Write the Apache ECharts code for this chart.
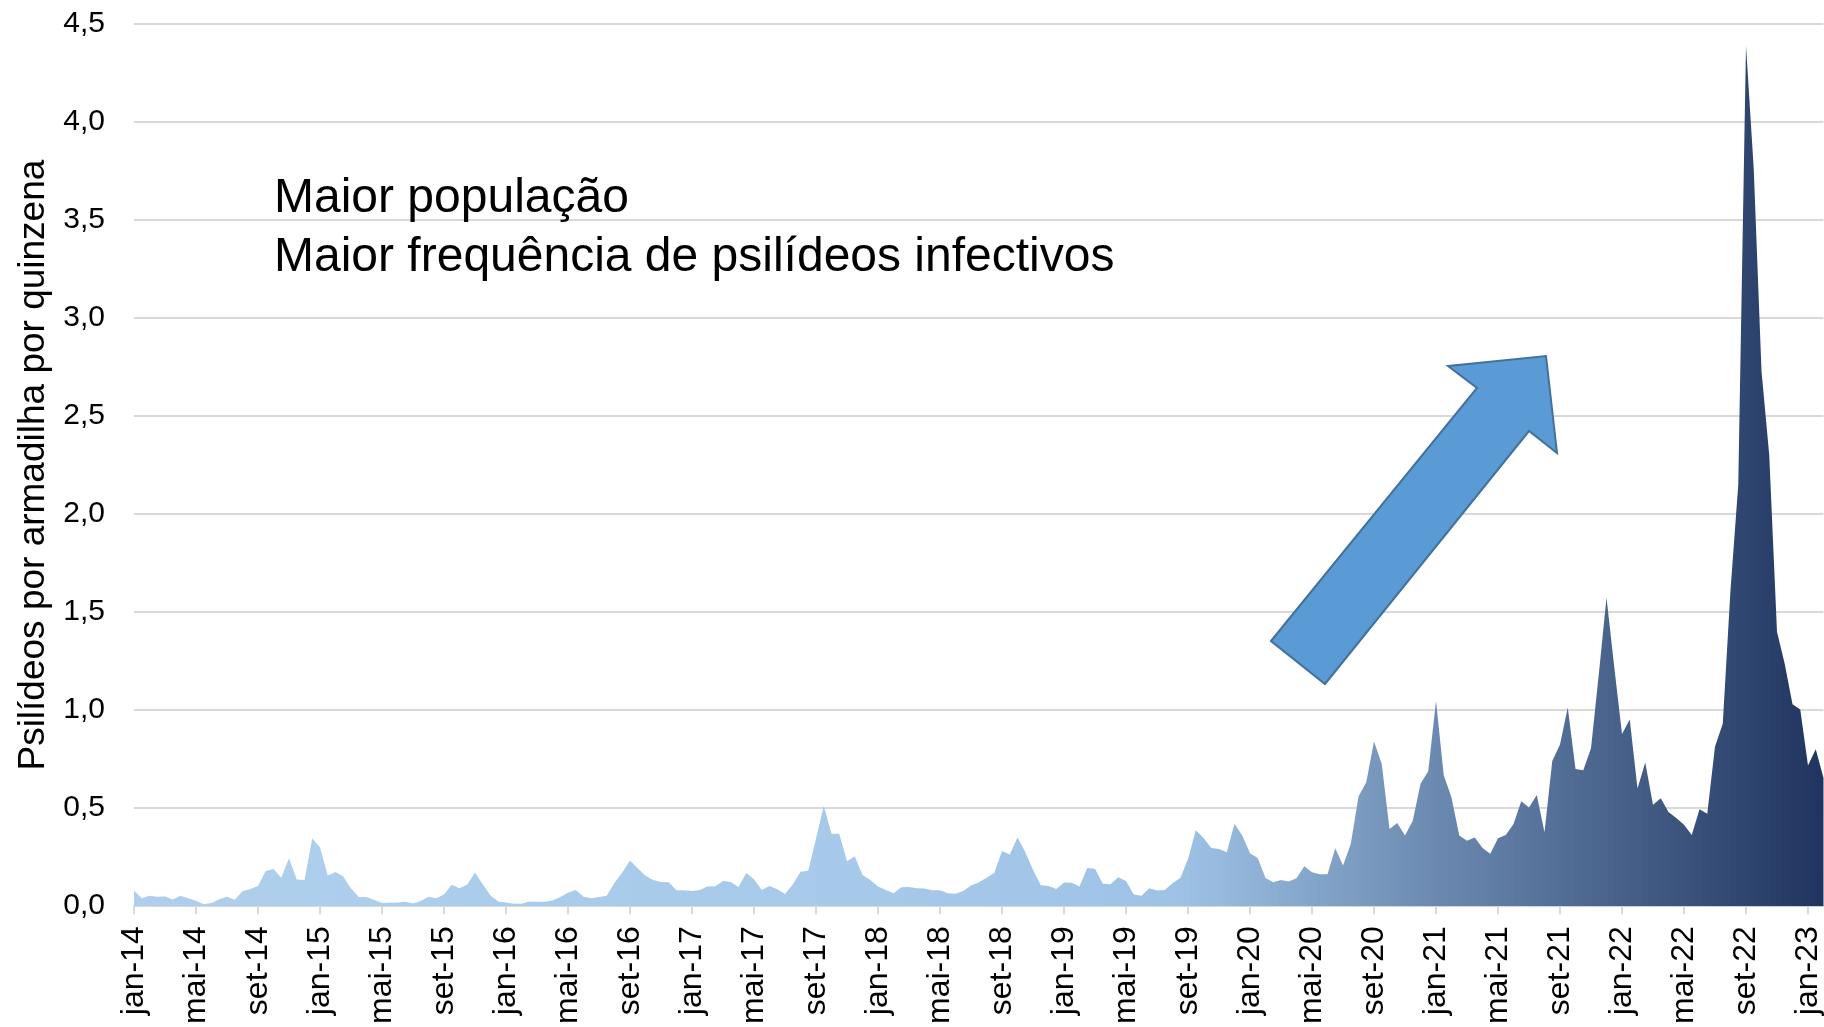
<!DOCTYPE html>
<html>
<head>
<meta charset="utf-8">
<title>Psilídeos por armadilha por quinzena</title>
<script src="https://cdn.jsdelivr.net/npm/echarts@6/dist/echarts.min.js"></script>
<style>
  html, body { margin: 0; padding: 0; background: #fff; }
  #chart { width: 1824px; height: 1027px; }
</style>
</head>
<body>
<div id="chart"></div>
<script>
// -------------------------- 数据 --------------------------
// 月份缩写（葡萄牙语），每月两个“quinzena”
const months = ['jan', 'fev', 'mar', 'abr', 'mai', 'jun', 'jul', 'ago', 'set', 'out', 'nov', 'dez'];
const firstYear = 14;
const lastYear = 23;

// 每个 quinzena 的平均值（jan-14 起）
const psyllids = [
  0.08, 0.04, 0.053, 0.048, 0.05, 0.034, 0.053, 0.041, 0.028, 0.01,
  0.016, 0.036, 0.048, 0.033, 0.076, 0.088, 0.103, 0.179, 0.19, 0.145,
  0.245, 0.136, 0.134, 0.345, 0.30, 0.157, 0.174, 0.152, 0.09, 0.047,
  0.047, 0.031, 0.016, 0.017, 0.019, 0.022, 0.014, 0.026, 0.048, 0.04,
  0.059, 0.109, 0.091, 0.11, 0.172, 0.112, 0.055, 0.024, 0.019, 0.012,
  0.012, 0.024, 0.022, 0.022, 0.029, 0.047, 0.069, 0.083, 0.048, 0.041,
  0.047, 0.053, 0.12, 0.172, 0.233, 0.193, 0.155, 0.134, 0.124, 0.122,
  0.081, 0.081, 0.078, 0.083, 0.1, 0.102, 0.128, 0.124, 0.098, 0.169,
  0.138, 0.083, 0.103, 0.086, 0.062, 0.11, 0.176, 0.181, 0.345, 0.512,
  0.37, 0.37, 0.229, 0.255, 0.159, 0.133, 0.1, 0.083, 0.066, 0.097,
  0.098, 0.091, 0.09, 0.081, 0.081, 0.066, 0.064, 0.078, 0.105, 0.121,
  0.145, 0.169, 0.281, 0.264, 0.35, 0.276, 0.186, 0.107, 0.103, 0.088,
  0.121, 0.119, 0.1, 0.195, 0.191, 0.114, 0.112, 0.148, 0.129, 0.06,
  0.053, 0.092, 0.08, 0.083, 0.117, 0.144, 0.241, 0.387, 0.348, 0.297,
  0.292, 0.275, 0.421, 0.36, 0.27, 0.246, 0.144, 0.122, 0.134, 0.126,
  0.143, 0.204, 0.173, 0.163, 0.163, 0.295, 0.207, 0.317, 0.56, 0.632,
  0.84, 0.725, 0.394, 0.424, 0.36, 0.436, 0.624, 0.688, 1.048, 0.668,
  0.555, 0.36, 0.334, 0.351, 0.297, 0.267, 0.346, 0.363, 0.419, 0.535,
  0.504, 0.567, 0.377, 0.74, 0.825, 1.014, 0.7, 0.693, 0.805, 1.18,
  1.574, 1.22, 0.878, 0.952, 0.6, 0.733, 0.517, 0.55, 0.48, 0.45,
  0.416, 0.363, 0.494, 0.471, 0.814, 0.93, 1.613, 2.15, 4.39, 3.76,
  2.73, 2.30, 1.40, 1.235, 1.03, 1.003, 0.718, 0.80, 0.654
];

// Y 轴刻度
const yMin = 0;
const yMax = 4.5;
const yStep = 0.5;

// 文字
const yAxisTitle = 'Psilídeos por armadilha por quinzena';
const noteLines = ['Maior população', 'Maior frequência de psilídeos infectivos'];

// 类目：每月两个点，标签形如 "jan-14"
const categories = [];
for (let y = firstYear; y <= lastYear; y++) {
  for (const m of months) {
    categories.push(m + '-' + y, m + '-' + y);
  }
}
categories.length = psyllids.length;

// -------------------------- 图表 --------------------------
const FONT = '"Liberation Sans", Arial, sans-serif';
const chart = echarts.init(document.getElementById('chart'));

const option = {
  backgroundColor: '#ffffff',
  animation: false,
  grid: { left: 134, right: 0, top: 24, bottom: 119 },
  xAxis: {
    type: 'category',
    data: categories,
    boundaryGap: false,
    axisLine: { lineStyle: { color: '#d9d9d9', width: 2 } },
    axisTick: { interval: 7, length: 8, lineStyle: { color: '#d9d9d9', width: 2 } },
    axisLabel: {
      interval: 7,
      rotate: 90,
      margin: 20,
      color: '#000',
      fontSize: 32,
      fontFamily: FONT,
      hideOverlap: false
    },
    splitLine: { show: false }
  },
  yAxis: {
    type: 'value',
    min: yMin,
    max: yMax,
    interval: yStep,
    name: yAxisTitle,
    nameLocation: 'middle',
    nameRotate: 90,
    nameGap: 80,
    nameTextStyle: { color: '#000', fontSize: 37, fontFamily: FONT },
    axisLine: { show: false },
    axisTick: { show: false },
    axisLabel: {
      margin: 29,
      color: '#000',
      fontSize: 30,
      fontFamily: FONT,
      formatter: v => v.toFixed(1).replace('.', ',')
    },
    splitLine: { lineStyle: { color: '#d9d9d9', width: 2 } }
  },
  series: [{
    type: 'line',
    data: psyllids,
    symbol: 'none',
    lineStyle: { width: 0, opacity: 0 },
    areaStyle: {
      opacity: 1,
      // 左侧浅蓝，2019 年后逐渐变为深蓝
      color: new echarts.graphic.LinearGradient(0, 0, 1, 0, [
        { offset: 0, color: '#afcfec' },
        { offset: 0.45, color: '#a6c9ea' },
        { offset: 0.62, color: '#9ec2e6' },
        { offset: 1, color: '#1f345f' }
      ])
    },
    z: 2
  }],
  graphic: [
    // 上升箭头
    {
      type: 'polygon',
      z: 100,
      shape: {
        points: [
          [1271, 641], [1477, 388], [1448, 366], [1546, 356],
          [1557, 453], [1529, 431], [1325, 684]
        ]
      },
      style: { fill: '#5b9bd5', stroke: '#41719c', lineWidth: 2 }
    },
    {
      type: 'text',
      x: 274,
      y: 199,
      z: 100,
      style: {
        text: noteLines[0],
        font: '48px ' + FONT,
        fill: '#000',
        verticalAlign: 'middle'
      }
    },
    {
      type: 'text',
      x: 274,
      y: 258,
      z: 100,
      style: {
        text: noteLines[1],
        font: '48px ' + FONT,
        fill: '#000',
        verticalAlign: 'middle'
      }
    }
  ]
};

chart.setOption(option);
</script>
</body>
</html>
